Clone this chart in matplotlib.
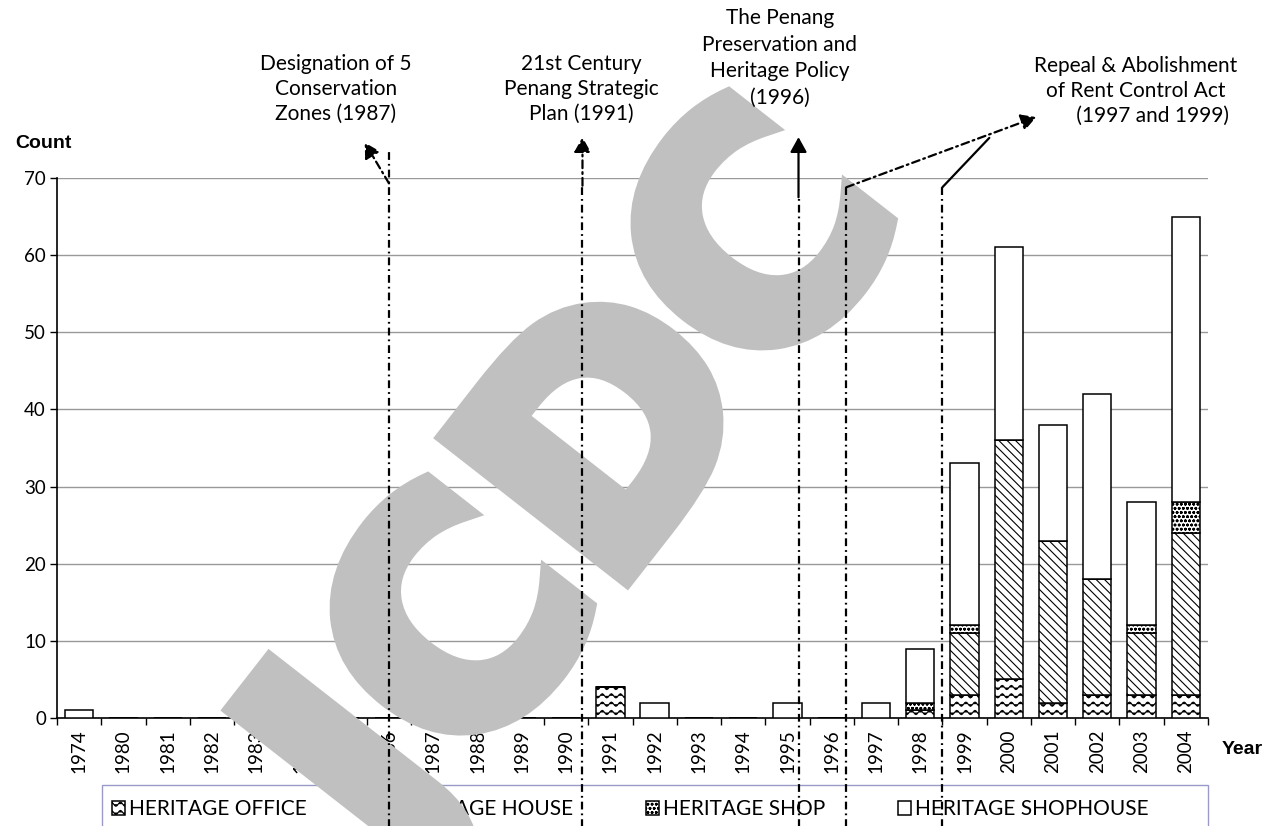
import numpy as np
import matplotlib
matplotlib.use("Agg")
import matplotlib.pyplot as plt
import matplotlib.patheffects as pe
from matplotlib import hatch as mhatch
from matplotlib.path import Path

years = ["1974", "1980", "1981", "1982", "1983", "1984", "1985", "1986", "1987",
         "1988", "1989", "1990", "1991", "1992", "1993", "1994", "1995", "1996",
         "1997", "1998", "1999", "2000", "2001", "2002", "2003", "2004"]
office = [0, 0, 0, 0, 0, 0, 0, 0, 1, 1, 0, 0, 4, 0, 0, 0, 0, 0, 0, 1, 3, 5, 2, 3, 3, 3]
house = [0, 0, 0, 0, 0, 0, 0, 0, 0, 0, 0, 0, 0, 0, 0, 0, 0, 0, 0, 0, 8, 31, 21, 15, 8, 21]
shop = [0, 0, 0, 0, 0, 0, 0, 0, 0, 0, 0, 0, 0, 0, 0, 0, 0, 0, 0, 1, 1, 0, 0, 0, 1, 4]
shophouse = [1, 0, 0, 0, 0, 0, 0, 0, 0, 0, 0, 0, 0, 2, 0, 0, 2, 0, 2, 7, 21, 25, 15, 24, 16, 37]
series_names = ["HERITAGE OFFICE", "HERITAGE HOUSE", "HERITAGE SHOP", "HERITAGE SHOPHOUSE"]
y_ticks = [0, 10, 20, 30, 40, 50, 60, 70]

notes = [
    "Designation of 5\nConservation\nZones (1987)",
    "21st Century\nPenang Strategic\nPlan (1991)",
    "The Penang\nPreservation and\nHeritage Policy\n(1996)",
    "Repeal & Abolishment\nof Rent Control Act\n      (1997 and 1999)",
]


# excel style wavy fill, used in place of the '|' hatch
class WaveHatch(mhatch.HatchPatternBase):
    def __init__(self, hatch, density):
        self.num_lines = int(hatch.count("|") * density)
        self.steps = 88
        self.num_vertices = self.num_lines * (self.steps + 1)

    def set_vertices_and_codes(self, vertices, codes):
        t = np.linspace(0, 1, self.steps + 1)
        n = self.num_lines
        for i in range(n):
            a = i * (self.steps + 1)
            b = a + self.steps + 1
            vertices[a:b, 0] = t
            vertices[a:b, 1] = (i + 0.5) / n + 0.25 / n * np.sin(2 * np.pi * 11 * t)
            codes[a:b] = Path.LINETO
            codes[a] = Path.MOVETO


mhatch._hatch_types = [WaveHatch if h is mhatch.VerticalHatch else h
                       for h in mhatch._hatch_types]

plt.rcParams["font.family"] = ["Lato", "DejaVu Sans"]
plt.rcParams["hatch.linewidth"] = 0.8
plt.rcParams["hatch.color"] = "black"

fig = plt.figure(figsize=(12.74, 8.26), dpi=100)
ax = fig.add_axes([57 / 1274, 1 - 718 / 826, (1208 - 57) / 1274, (718 - 178) / 826])

x = np.arange(len(years))
w = 0.64
bottom = np.zeros(len(years))
styles = [
    dict(facecolor="white", hatch="||"),
    dict(facecolor="white", hatch="\\\\\\\\"),
    dict(facecolor="white", hatch="oooo"),
    dict(facecolor="white", hatch=None),
]
handles = []
for vals, name, st in zip([office, house, shop, shophouse], series_names, styles):
    vals = np.array(vals, dtype=float)
    bars = ax.bar(x, vals, w, bottom=bottom, edgecolor="black", linewidth=1.1,
                  label=name, zorder=3, **st)
    handles.append(bars)
    bottom += vals

ax.set_xlim(-0.5, len(years) - 0.5)
ax.set_ylim(0, 70)
ax.set_yticks(y_ticks)
ax.set_yticklabels([str(v) for v in y_ticks], fontsize=13.5)
ax.set_xticks(x)
ax.set_xticklabels(years, rotation=90, fontsize=13.5)
ax.set_xticks(np.arange(-0.5, len(years)), minor=True)
ax.tick_params(axis="x", which="major", length=0, pad=8)
ax.tick_params(axis="x", which="minor", length=5, direction="out", width=1)
ax.tick_params(axis="y", length=5, direction="out", width=1, pad=3)
ax.grid(axis="y", color="#999999", linewidth=1)
ax.set_axisbelow(True)
for s in ["top", "right"]:
    ax.spines[s].set_visible(False)
ax.spines["left"].set_linewidth(1.2)
ax.spines["bottom"].set_linewidth(1.2)

fig.text(15 / 1274, 1 - 143 / 826, "Count", fontsize=14, fontweight="bold",
         family="Liberation Sans", ha="left", va="center")
fig.text(1222 / 1274, 1 - 750 / 826, "Year", fontsize=14, fontweight="bold",
         family="Liberation Sans", ha="left", va="center")

# legend box runs the full width like the excel one
box = plt.Rectangle((102 / 1274, 1 - 840 / 826), (1208 - 102) / 1274, 55 / 826,
                    transform=fig.transFigure, facecolor="white", edgecolor="#9a9ac8",
                    linewidth=1, clip_on=False, zorder=4.9)
ax.add_patch(box)
leg = ax.legend(handles=handles, loc="upper left", ncol=4,
                bbox_to_anchor=(106 / 1274, 1 - 793 / 826),
                bbox_transform=fig.transFigure, fontsize=15, frameon=False,
                borderpad=0.3, handlelength=0.6, handleheight=0.6,
                handletextpad=0.2, columnspacing=3.5, borderaxespad=0)

# watermark
ax.text(585 / 1274, 1 - 490 / 826, "JCDC", transform=fig.transFigure, fontsize=225,
        fontweight="bold", family="DejaVu Sans", color="#c0c0c0", rotation=52,
        ha="center", va="center", zorder=5.5, clip_on=False,
        path_effects=[pe.withStroke(linewidth=14, foreground="#c0c0c0",
                                    joinstyle="miter")])

# event lines
dashdot = (0, (3.5, 1.8, 0.8, 1.8))
lw = 1.6
head = "-|>,head_length=0.45,head_width=0.25"


def vline(xv, ytop):
    ax.plot([xv, xv], [-16, ytop], color="black", lw=lw, linestyle=dashdot,
            clip_on=False, zorder=6)


def arrow(x0, y0, x1, y1, ls, style=head):
    ax.annotate("", xy=(x1, y1), xytext=(x0, y0), annotation_clip=False,
                arrowprops=dict(arrowstyle=style, color="black", lw=lw, linestyle=ls,
                                mutation_scale=20, shrinkA=0, shrinkB=0),
                zorder=6)


vline(7.0, 73.4)
arrow(7.0, 69.3, 6.45, 74.6, dashdot)
vline(11.37, 69.0)
arrow(11.37, 69.0, 11.37, 75.3, dashdot)
vline(16.25, 67.5)
arrow(16.25, 67.5, 16.25, 75.3, "-")
vline(17.33, 68.8)
arrow(17.33, 68.8, 21.62, 77.9, dashdot)
vline(19.5, 68.8)
arrow(19.5, 68.8, 20.56, 75.2, "-", style="-")

note_pos = [(336, 89), (581, 89), (780, 58), (1136, 91)]
note_ls = [1.3, 1.3, 1.4, 1.3]
for txt, (px, py), ls in zip(notes, note_pos, note_ls):
    fig.text(px / 1274, 1 - py / 826, txt, fontsize=15, ha="center", va="center",
             multialignment="center", linespacing=ls)

fig.savefig("out.png", dpi=100)
